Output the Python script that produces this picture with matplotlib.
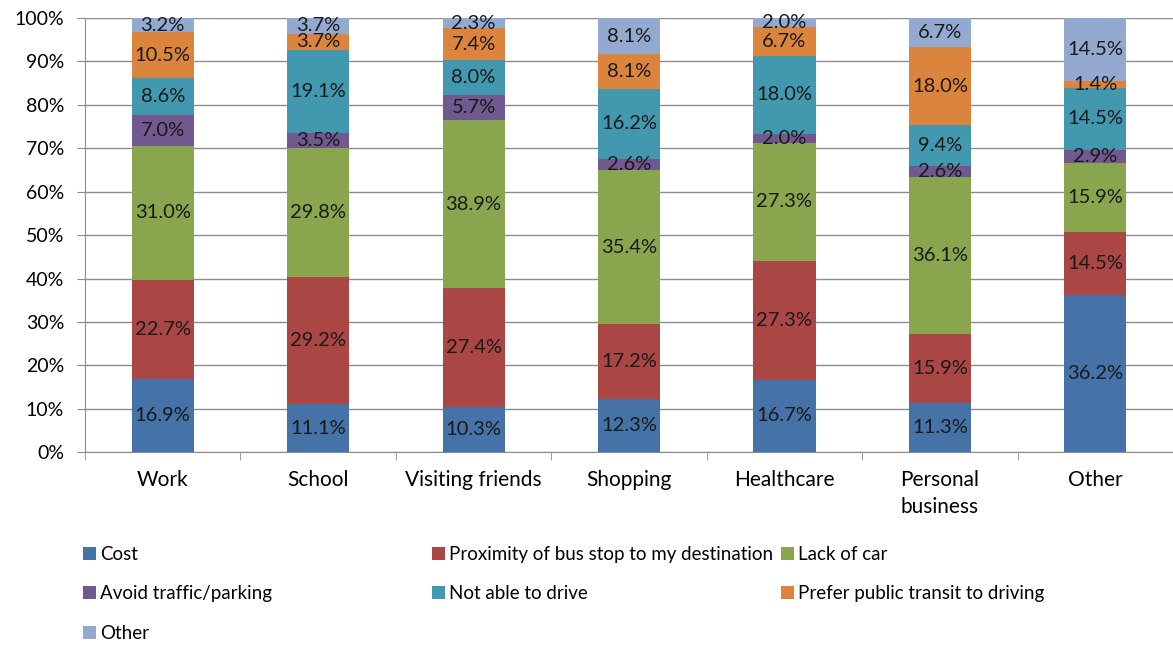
import matplotlib.pyplot as plt
import numpy as np

plt.rcParams['font.family'] = ['Lato', 'DejaVu Sans']

# Trip purposes and reasons for riding the bus (% of respondents)
purposes = ['Work', 'School', 'Visiting friends', 'Shopping', 'Healthcare',
            'Personal\nbusiness', 'Other']
reasons = ['Cost', 'Proximity of bus stop to my destination', 'Lack of car',
           'Avoid traffic/parking', 'Not able to drive',
           'Prefer public transit to driving', 'Other']

cost = [16.9, 11.1, 10.3, 12.3, 16.7, 11.3, 36.2]
proximity = [22.7, 29.2, 27.4, 17.2, 27.3, 15.9, 14.5]
lack_of_car = [31.0, 29.8, 38.9, 35.4, 27.3, 36.1, 15.9]
avoid_traffic = [7.0, 3.5, 5.7, 2.6, 2.0, 2.6, 2.9]
cannot_drive = [8.6, 19.1, 8.0, 16.2, 18.0, 9.4, 14.5]
prefer_transit = [10.5, 3.7, 7.4, 8.1, 6.7, 18.0, 1.4]
other = [3.2, 3.7, 2.3, 8.1, 2.0, 6.7, 14.5]

series = [cost, proximity, lack_of_car, avoid_traffic, cannot_drive,
          prefer_transit, other]
colors = ['#4572A7', '#AA4643', '#89A54E', '#71588F', '#4198AF',
          '#DB843D', '#93A9CF']

fig = plt.figure(figsize=(11.73, 6.45), dpi=100)
ax = fig.add_axes([0.0725, 0.299, 0.9275, 0.673])

x = np.arange(len(purposes))
bottom = np.zeros(len(purposes))
bars = []
for vals, col, name in zip(series, colors, reasons):
    vals = np.array(vals)
    b = ax.bar(x, vals, 0.4, bottom=bottom, color=col, label=name, zorder=2)
    bars.append(b)
    for xi, v, b0 in zip(x, vals, bottom):
        ax.text(xi, b0 + v / 2, f'{v:.1f}%', ha='center', va='center',
                fontsize=14.5, color='#1a1a1a', zorder=3)
    bottom += vals

ax.set_xlim(-0.5, len(purposes) - 0.5)
ax.set_ylim(0, 100)
ax.set_yticks(np.arange(0, 101, 10))
ax.set_yticklabels([f'{v}%' for v in range(0, 101, 10)], fontsize=14)
ax.yaxis.grid(True, color='#8c8c8c', linewidth=1, zorder=0)
ax.tick_params(axis='y', length=6, color='#8c8c8c', pad=9)

ax.set_xticks(x)
ax.set_xticklabels(purposes, fontsize=15, linespacing=1.4)
ax.set_xticks(np.arange(-0.5, len(purposes)), minor=True)
ax.tick_params(axis='x', which='major', length=0, pad=13)
ax.tick_params(axis='x', which='minor', length=6, color='#8c8c8c')

for s in ['top', 'right']:
    ax.spines[s].set_visible(False)
for s in ['left', 'bottom']:
    ax.spines[s].set_color('#8c8c8c')

# legend laid out in three columns below the plot
columns = [[0, 3, 6], [1, 4], [2, 5]]
col_x = [0.0707, 0.368, 0.666]
for cols, cx in zip(columns, col_x):
    leg = fig.legend([bars[i] for i in cols], [reasons[i] for i in cols],
                     loc='upper left', bbox_to_anchor=(cx, 0.154),
                     frameon=False, fontsize=13.5, handlelength=0.7,
                     handleheight=0.7, handletextpad=0.2, labelspacing=1.2,
                     borderaxespad=0, borderpad=0)

fig.savefig('out.png', dpi=100)
